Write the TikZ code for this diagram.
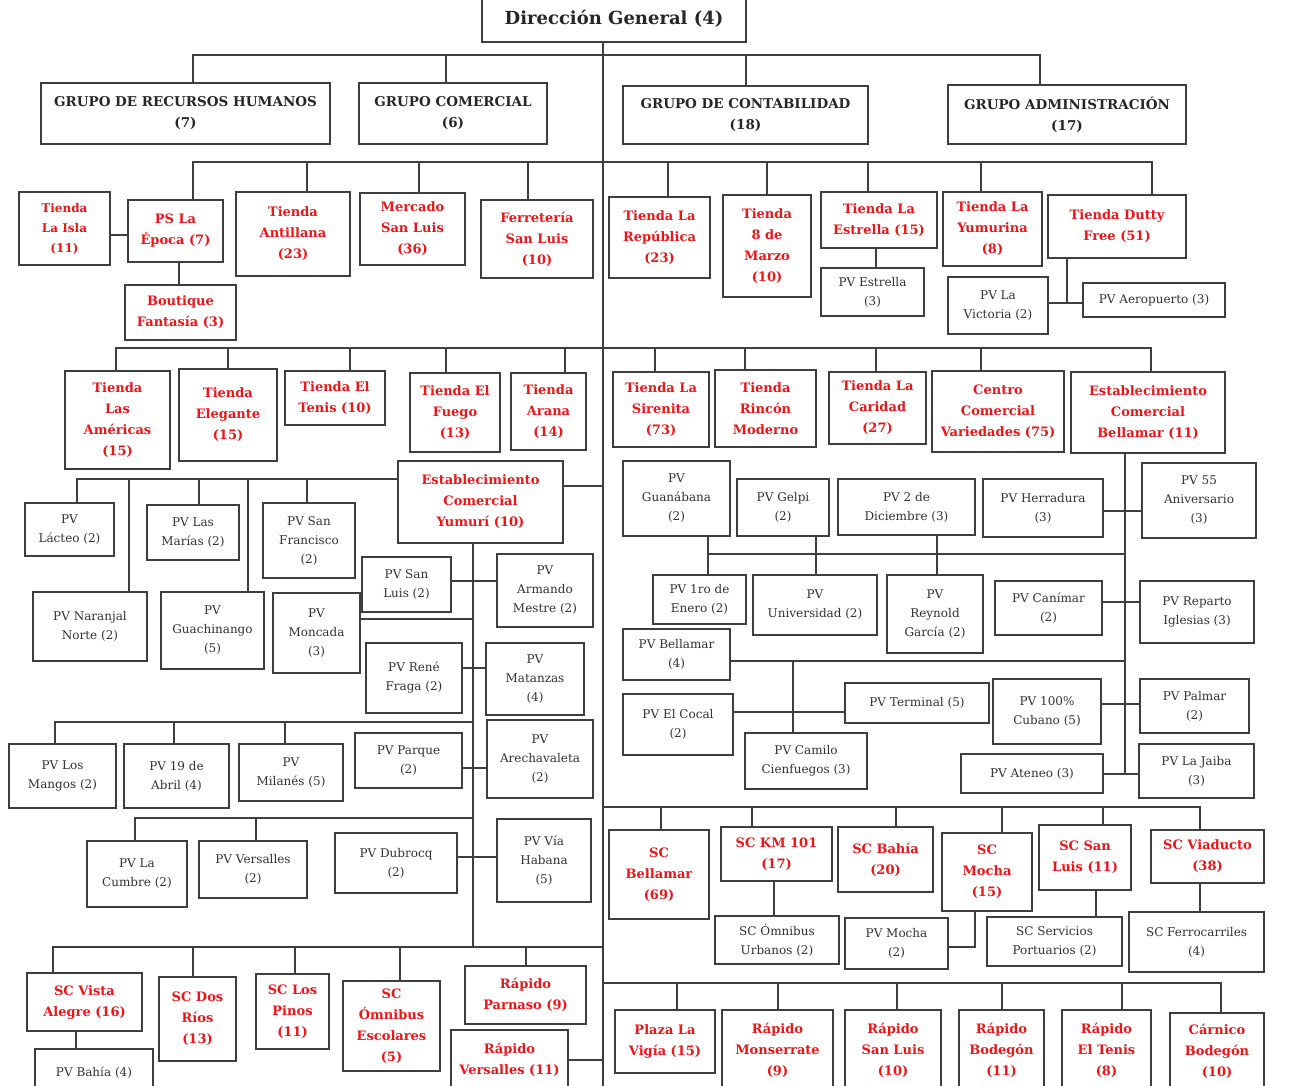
\documentclass[tikz,border=0pt]{standalone}
\usepackage{fontspec}
\setmainfont{DejaVu Serif}
\usepackage{xcolor}
\usetikzlibrary{positioning, calc}

\definecolor{linegray}{RGB}{62,62,62}
\definecolor{tred}{RGB}{236,22,22}
\definecolor{pvtext}{RGB}{50,50,50}

\begin{document}
\begin{tikzpicture}[
    x=1pt, y=-1pt,
    box/.style={draw=linegray, line width=2pt, fill=white, align=center, inner sep=2pt},
    sz/.style 2 args={minimum width=#1, minimum height=#2},
    dgbox/.style={box, font=\bfseries\fontsize{18}{22}\selectfont, text=black!85},
    grp/.style={box, font=\bfseries\fontsize{13.5}{21}\selectfont, text=black!85},
    tda/.style={box, font=\bfseries\fontsize{13}{21}\selectfont, text=tred},
    pv/.style={box, font=\fontsize{12}{19}\selectfont, text=pvtext},
    link/.style={draw=linegray, line width=2pt}
]
    \useasboundingbox (0,0) rectangle (1292,1085);

    % Direccion y grupos
    \node[dgbox, sz={264}{46}] (dg) at (614,19) {Dirección General (4)};
    \node[grp, sz={289}{61}] (rrhh) at (185.5,113.5) {GRUPO DE RECURSOS HUMANOS\\(7)};
    \node[grp, sz={188}{61}] (comer) at (453,113.5) {GRUPO COMERCIAL\\(6)};
    \node[grp, sz={245}{58}] (conta) at (745.5,115) {GRUPO DE CONTABILIDAD\\(18)};
    \node[grp, sz={238}{59}] (adm) at (1067,114.5) {GRUPO ADMINISTRACIÓN\\(17)};

    % Tiendas, primera fila
    \node[tda, sz={91}{73}, font=\bfseries\fontsize{12}{20}\selectfont] (laisla) at (64.5,228.5) {Tienda\\La Isla\\(11)};
    \node[tda, sz={95}{62}] (epoca) at (175.5,231) {PS La\\Época (7)};
    \node[tda, sz={114}{84}] (antillana) at (293,234) {Tienda\\Antillana\\(23)};
    \node[tda, sz={105}{72}] (mercado) at (412.5,229) {Mercado\\San Luis\\(36)};
    \node[tda, sz={112}{78}] (ferreteria) at (537,239) {Ferretería\\San Luis\\(10)};
    \node[tda, sz={101}{81}] (republica) at (659.5,237.5) {Tienda La\\República\\(23)};
    \node[tda, sz={88}{102}] (marzo) at (767,246) {Tienda\\8 de\\Marzo\\(10)};
    \node[tda, sz={116}{56}] (estrella) at (879,220) {Tienda La\\Estrella (15)};
    \node[tda, sz={99}{74}] (yumurina) at (992.5,229) {Tienda La\\Yumurina\\(8)};
    \node[tda, sz={138}{63}] (dutty) at (1117,226.5) {Tienda Dutty\\Free (51)};
    \node[tda, sz={111}{55}] (boutique) at (180.5,312.5) {Boutique\\Fantasía (3)};
    \node[pv, sz={103}{48}] (pvestrella) at (872.5,292) {PV Estrella\\(3)};
    \node[pv, sz={100}{57}] (victoria) at (998,305.5) {PV La\\Victoria (2)};
    \node[pv, sz={142}{34}] (aeropuerto) at (1154,300) {PV Aeropuerto (3)};

    % Tiendas, segunda fila
    \node[tda, sz={105}{98}] (americas) at (117.5,420) {Tienda\\Las\\Américas\\(15)};
    \node[tda, sz={98}{92}] (elegante) at (228,415) {Tienda\\Elegante\\(15)};
    \node[tda, sz={100}{54}] (tenis) at (335,398) {Tienda El\\Tenis (10)};
    \node[tda, sz={90}{79}] (fuego) at (455,412.5) {Tienda El\\Fuego\\(13)};
    \node[tda, sz={75}{77}] (arana) at (548.5,411.5) {Tienda\\Arana\\(14)};
    \node[tda, sz={96}{75}] (sirenita) at (661,409.5) {Tienda La\\Sirenita\\(73)};
    \node[tda, sz={101}{77}] (rincon) at (765.5,408.5) {Tienda\\Rincón\\Moderno};
    \node[tda, sz={97}{72}] (caridad) at (877.5,408) {Tienda La\\Caridad\\(27)};
    \node[tda, sz={132}{81}] (variedades) at (998,411.5) {Centro\\Comercial\\Variedades (75)};
    \node[tda, sz={154}{81}] (bellamar) at (1148,412.5) {Establecimiento\\Comercial\\Bellamar (11)};

    % Establecimiento Yumuri
    \node[tda, sz={165}{82}] (yumuri) at (480.5,502) {Establecimiento\\Comercial\\Yumurí (10)};
    \node[pv, sz={89}{53}] (lacteo) at (69.5,529.5) {PV\\Lácteo (2)};
    \node[pv, sz={114}{69}] (naranjal) at (90,626.5) {PV Naranjal\\Norte (2)};
    \node[pv, sz={92}{55}] (marias) at (193,532.5) {PV Las\\Marías (2)};
    \node[pv, sz={103}{77}] (guachinango) at (212.5,630.5) {PV\\Guachinango\\(5)};
    \node[pv, sz={92}{75}] (sanfrancisco) at (309,540.5) {PV San\\Francisco\\(2)};
    \node[pv, sz={89}{55}] (sanluispv) at (406.5,584.5) {PV San\\Luis (2)};
    \node[pv, sz={96}{73}] (armando) at (545,590.5) {PV\\Armando\\Mestre (2)};
    \node[pv, sz={87}{80}] (moncada) at (316.5,633) {PV\\Moncada\\(3)};
    \node[pv, sz={96}{70}] (rene) at (414,678) {PV René\\Fraga (2)};
    \node[pv, sz={98}{72}] (matanzas) at (535,679) {PV\\Matanzas\\(4)};
    \node[pv, sz={107}{64}] (mangos) at (62.5,776) {PV Los\\Mangos (2)};
    \node[pv, sz={105}{64}] (abril) at (176.5,776) {PV 19 de\\Abril (4)};
    \node[pv, sz={104}{57}] (milanes) at (291,772.5) {PV\\Milanés (5)};
    \node[pv, sz={107}{55}] (parque) at (408.5,760.5) {PV Parque\\(2)};
    \node[pv, sz={106}{78}] (arechavaleta) at (540,759) {PV\\Arechavaleta\\(2)};
    \node[pv, sz={100}{66}] (cumbre) at (137,874) {PV La\\Cumbre (2)};
    \node[pv, sz={108}{57}] (versallespv) at (253,869.5) {PV Versalles\\(2)};
    \node[pv, sz={122}{60}] (dubrocq) at (396,863) {PV Dubrocq\\(2)};
    \node[pv, sz={94}{83}] (viahabana) at (544,860.5) {PV Vía\\Habana\\(5)};

    % Sucursales izquierda
    \node[tda, sz={115}{58}] (vistaalegre) at (84.5,1002) {SC Vista\\Alegre (16)};
    \node[tda, sz={77}{84}] (dosrios) at (197.5,1019) {SC Dos\\Ríos\\(13)};
    \node[tda, sz={73}{75}] (pinos) at (292.5,1011.5) {SC Los\\Pinos\\(11)};
    \node[tda, sz={97}{90}] (omnibusesc) at (391.5,1026) {SC\\Ómnibus\\Escolares\\(5)};
    \node[tda, sz={121}{58}] (parnaso) at (525.5,995) {Rápido\\Parnaso (9)};
    \node[pv, sz={118}{48}] (bahia) at (94,1073) {PV Bahía (4)};
    \node[tda, sz={117}{60}] (versallesr) at (509.5,1060) {Rápido\\Versalles (11)};

    % Establecimiento Bellamar
    \node[pv, sz={107}{75}] (guanabana) at (676.5,498.5) {PV\\Guanábana\\(2)};
    \node[pv, sz={92}{57}] (gelpi) at (783,507.5) {PV Gelpi\\(2)};
    \node[pv, sz={137}{56}] (diciembre) at (906.5,507) {PV 2 de\\Diciembre (3)};
    \node[pv, sz={120}{58}] (herradura) at (1043,508) {PV Herradura\\(3)};
    \node[pv, sz={114}{75}] (aniversario) at (1199,500.5) {PV 55\\Aniversario\\(3)};
    \node[pv, sz={93}{49}] (enero) at (699.5,599.5) {PV 1ro de\\Enero (2)};
    \node[pv, sz={124}{60}] (universidad) at (815,605) {PV\\Universidad (2)};
    \node[pv, sz={96}{78}] (reynold) at (935,614) {PV\\Reynold\\García (2)};
    \node[pv, sz={107}{54}] (canimar) at (1048.5,608) {PV Canímar\\(2)};
    \node[pv, sz={114}{62}] (iglesias) at (1197,612) {PV Reparto\\Iglesias (3)};
    \node[pv, sz={107}{51}] (pvbellamar) at (676.5,654.5) {PV Bellamar\\(4)};
    \node[pv, sz={110}{61}] (cocal) at (678,724.5) {PV El Cocal\\(2)};
    \node[pv, sz={144}{40}] (terminal) at (917,703) {PV Terminal (5)};
    \node[pv, sz={122}{56}] (camilo) at (806,761) {PV Camilo\\Cienfuegos (3)};
    \node[pv, sz={108}{65}] (cubano) at (1047,711.5) {PV 100\%\\Cubano (5)};
    \node[pv, sz={109}{54}] (palmar) at (1194.5,706) {PV Palmar\\(2)};
    \node[pv, sz={142}{39}] (ateneo) at (1032,773.5) {PV Ateneo (3)};
    \node[pv, sz={115}{54}] (jaiba) at (1196.5,771) {PV La Jaiba\\(3)};

    % Sucursales derecha
    \node[tda, sz={100}{89}] (scbellamar) at (659,874.5) {SC\\Bellamar\\(69)};
    \node[tda, sz={111}{54}] (km101) at (776.5,854) {SC KM 101\\(17)};
    \node[tda, sz={95}{65}] (bahiasc) at (885.5,859.5) {SC Bahía\\(20)};
    \node[tda, sz={90}{78}] (mocha) at (987,872) {SC\\Mocha\\(15)};
    \node[tda, sz={92}{65}] (sanluissc) at (1085,857.5) {SC San\\Luis (11)};
    \node[tda, sz={113}{53}] (viaducto) at (1207.5,856.5) {SC Viaducto\\(38)};
    \node[pv, sz={124}{48}] (urbanos) at (777,940) {SC Ómnibus\\Urbanos (2)};
    \node[pv, sz={103}{51}] (pvmocha) at (896.5,943.5) {PV Mocha\\(2)};
    \node[pv, sz={135}{49}] (portuarios) at (1054.5,941.5) {SC Servicios\\Portuarios (2)};
    \node[pv, sz={135}{60}] (ferrocarriles) at (1196.5,942) {SC Ferrocarriles\\(4)};

    % Rapidos
    \node[tda, sz={100}{63}] (vigia) at (665,1041.5) {Plaza La\\Vigía (15)};
    \node[tda, sz={111}{80}] (monserrate) at (777.5,1050) {Rápido\\Monserrate\\(9)};
    \node[tda, sz={96}{80}] (sanluisr) at (893,1050) {Rápido\\San Luis\\(10)};
    \node[tda, sz={85}{80}] (bodegonr) at (1001.5,1050) {Rápido\\Bodegón\\(11)};
    \node[tda, sz={89}{80}] (tenisr) at (1106.5,1050) {Rápido\\El Tenis\\(8)};
    \node[tda, sz={94}{77}] (carnico) at (1217,1051.5) {Cárnico\\Bodegón\\(10)};

    % Lineas
    \coordinate (trunkend) at (603,1092);
    \coordinate (busA) at (603,55);
    \coordinate (busB) at (603,162);
    \coordinate (busC) at (603,348);
    \coordinate (busD) at ([yshift=23]yumuri.west);
    \coordinate (spine) at ([xshift=-7.5]yumuri.south);
    \coordinate (busE) at (473,722);
    \coordinate (busG) at (473,818);
    \coordinate (busF) at (603,947);
    \coordinate (dj) at (1067,303);
    \coordinate (bspine) at (1125,773);
    \coordinate (busH) at (1125,554);
    \coordinate (busI) at (1125,661);
    \coordinate (busJ) at (603,807);
    \coordinate (busK) at (603,983);

    \draw[link] ([xshift=-11]dg.south) -- (trunkend);
    \draw[link] ([xshift=7.5]rrhh.north) |- (busA) -| ([xshift=-27]adm.north);
    \draw[link] ([xshift=-7]comer.north) -- ([xshift=-7]comer.north |- busA);
    \draw[link] (conta.north) -- (conta.north |- busA);

    \draw[link] ([xshift=17.5]epoca.north) |- (busB) -| ([xshift=35]dutty.north);
    \foreach \n/\s in {antillana/14, mercado/6.5, ferreteria/-9, republica/8.5,
                       marzo/0, estrella/-11, yumurina/-11.5}
        \draw[link] ([xshift=\s]\n.north) -- ([xshift=\s]\n.north |- busB);
    \draw[link] ([yshift=-6]laisla.east) -- ([yshift=-6]laisla.east -| epoca.west);
    \draw[link] ([xshift=3.5]epoca.south) -- ([xshift=3.5]epoca.south |- boutique.north);
    \draw[link] ([xshift=-3]estrella.south) -- ([xshift=-3]estrella.south |- pvestrella.north);
    \draw[link] ([xshift=-50]dutty.south) -- (dj);
    \draw[link] (victoria.east |- dj) -- (aeropuerto.west |- dj);

    \draw[link] ([xshift=-1.5]americas.north) |- (busC) -| ([xshift=3]bellamar.north);
    \foreach \n/\s in {elegante/0, tenis/15, fuego/-9, arana/16.5, sirenita/-6,
                       rincon/-20.5, caridad/-1.5, variedades/-17}
        \draw[link] ([xshift=\s]\n.north) -- ([xshift=\s]\n.north |- busC);

    % Yumuri
    \draw[link] ([yshift=16]yumuri.east) -- ([yshift=16]yumuri.east -| trunkend);
    \draw[link] ([xshift=7.5]lacteo.north) |- (busD);
    \foreach \n/\s in {marias/6, sanfrancisco/-2, naranjal/39, guachinango/35.5}
        \draw[link] ([xshift=\s]\n.north) -- ([xshift=\s]\n.north |- busD);
    \draw[link] (spine) -- (spine |- busF);
    \draw[link] ([yshift=3.5]sanluispv.east) -- ([yshift=3.5]sanluispv.east -| armando.west);
    \draw[link] ([yshift=14]moncada.east) -- ([yshift=14]moncada.east -| spine);
    \draw[link] ([yshift=10]rene.east) -- ([yshift=10]rene.east -| matanzas.west);
    \draw[link] ([xshift=-7.5]mangos.north) |- (busE);
    \draw[link] ([xshift=-2.5]abril.north) -- ([xshift=-2.5]abril.north |- busE);
    \draw[link] ([xshift=-6]milanes.north) -- ([xshift=-6]milanes.north |- busE);
    \draw[link] ([yshift=-7.5]parque.east) -- ([yshift=-7.5]parque.east -| arechavaleta.west);
    \draw[link] ([xshift=-2]cumbre.north) |- (busG);
    \draw[link] ([xshift=3]versallespv.north) -- ([xshift=3]versallespv.north |- busG);
    \draw[link] ([yshift=6]dubrocq.east) -- ([yshift=6]dubrocq.east -| viahabana.west);

    \draw[link] ([xshift=-31.5]vistaalegre.north) |- (busF);
    \foreach \n/\s in {dosrios/-4.5, pinos/2.5, omnibusesc/8.5, parnaso/0.5}
        \draw[link] ([xshift=\s]\n.north) -- ([xshift=\s]\n.north |- busF);
    \draw[link] ([xshift=-8.5]vistaalegre.south) -- ([xshift=-8.5]vistaalegre.south |- bahia.north);
    \draw[link] (versallesr.east) -- (versallesr.east -| trunkend);

    % Bellamar
    \draw[link] ([xshift=-23]bellamar.south) -- (bspine);
    \draw[link] ([yshift=-3]herradura.east) -- ([yshift=-3]herradura.east -| aniversario.west);
    \draw[link] ([xshift=31.5]guanabana.south) |- (busH);
    \draw[link] ([xshift=31.5]guanabana.south) -- ([xshift=31.5]guanabana.south |- enero.north);
    \draw[link] ([xshift=33]gelpi.south) -- ([xshift=33]gelpi.south |- universidad.north);
    \draw[link] ([xshift=30.5]diciembre.south) -- ([xshift=30.5]diciembre.south |- reynold.north);
    \draw[link] ([yshift=6]canimar.east) -- ([yshift=6]canimar.east -| iglesias.west);
    \draw[link] ([yshift=-6.5]pvbellamar.east) -- (busI);
    \draw[link] ([xshift=-13]camilo.north) -- ([xshift=-13]camilo.north |- busI);
    \draw[link] ([yshift=12.5]cocal.east) -- ([yshift=12.5]cocal.east -| terminal.west);
    \draw[link] ([yshift=7.5]cubano.east) -- ([yshift=7.5]cubano.east -| palmar.west);
    \draw[link] (ateneo.east) -- (ateneo.east -| jaiba.west);

    % Sucursales
    \draw[link] (busJ) -| ([xshift=-7.5]viaducto.north);
    \foreach \n/\s in {scbellamar/2, km101/-24.5, bahiasc/10.5, mocha/15, sanluissc/18}
        \draw[link] ([xshift=\s]\n.north) -- ([xshift=\s]\n.north |- busJ);
    \draw[link] ([xshift=-2.5]km101.south) -- ([xshift=-2.5]km101.south |- urbanos.north);
    \draw[link] ([xshift=-12]mocha.south) |- ([yshift=-3.5]pvmocha.east);
    \draw[link] ([xshift=11]sanluissc.south) -- ([xshift=11]sanluissc.south |- portuarios.north);
    \draw[link] ([xshift=-7.5]viaducto.south) -- ([xshift=-7.5]viaducto.south |- ferrocarriles.north);

    \draw[link] (busK) -| ([xshift=4]carnico.north);
    \foreach \n/\s in {vigia/12, monserrate/0.5, sanluisr/4, bodegonr/0.5, tenisr/15.5}
        \draw[link] ([xshift=\s]\n.north) -- ([xshift=\s]\n.north |- busK);

\end{tikzpicture}
\end{document}
